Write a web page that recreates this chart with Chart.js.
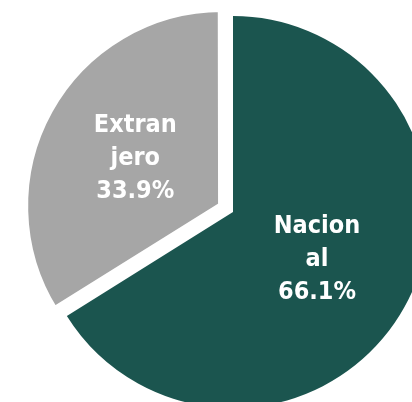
<!DOCTYPE html>
<html>
<head>
<meta charset="utf-8">
<script src="https://cdn.jsdelivr.net/npm/chart.js@4.4.1/dist/chart.umd.min.js"></script>
<style>
html,body{margin:0;padding:0;background:#fff;overflow:hidden;}
#wrap{width:412px;height:402px;position:relative;}
</style>
</head>
<body>
<div id="wrap"><canvas id="c" width="412" height="402"></canvas></div>
<script>
const categories = ['Nacional', 'Extranjero'];
const labelLines = [['Nacion', 'al'], ['Extran', 'jero']];
const values = [66.1, 33.9];
const valueLabels = ['66.1%', '33.9%'];
const colors = ['#1B554F', '#A6A6A6'];
const offsets = [0, 50];
const borderWidths = [0, 8];
const labelRadius = [0.49, 0.57];

const labelPlugin = {
  id: 'sliceLabels',
  afterDatasetsDraw(chart) {
    const ctx = chart.ctx;
    const meta = chart.getDatasetMeta(0);
    ctx.save();
    ctx.fillStyle = '#ffffff';
    ctx.font = "bold 25px 'DejaVu Sans Condensed', 'DejaVu Sans', sans-serif";
    ctx.textAlign = 'center';
    ctx.textBaseline = 'middle';
    meta.data.forEach((arc, i) => {
      const p = arc.getProps(['x', 'y', 'startAngle', 'endAngle', 'outerRadius'], true);
      const mid = (p.startAngle + p.endAngle) / 2;
      const d = labelRadius[i] * p.outerRadius;
      const cx = p.x + Math.cos(mid) * d;
      const cy = p.y + Math.sin(mid) * d;
      const lines = labelLines[i].concat([valueLabels[i]]);
      const lh = 33;
      const startY = cy - (lines.length - 1) * lh / 2;
      lines.forEach((t, k) => ctx.fillText(t, cx, startY + k * lh + 1));
    });
    ctx.restore();
  }
};

new Chart(document.getElementById('c'), {
  type: 'pie',
  data: {
    labels: categories,
    datasets: [{
      data: values,
      backgroundColor: colors,
      borderColor: '#ffffff',
      borderWidth: borderWidths,
      borderAlign: 'center',
      offset: offsets,
      clip: false
    }]
  },
  options: {
    responsive: false,
    animation: false,
    radius: 196,
    layout: { padding: { left: 54, right: 0, top: 22, bottom: 0 } },
    plugins: { legend: { display: false }, tooltip: { enabled: false } }
  },
  plugins: [labelPlugin]
});
</script>
</body>
</html>
